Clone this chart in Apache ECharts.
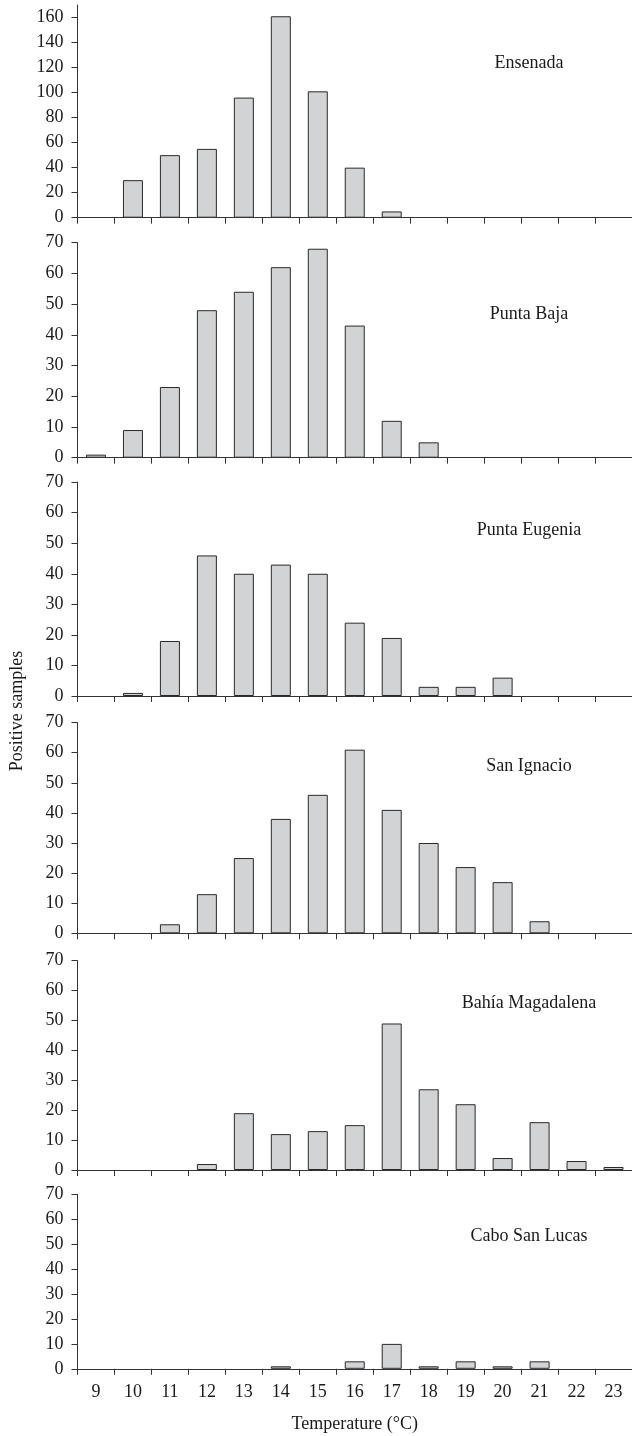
<!DOCTYPE html>
<html>
<head>
<meta charset="utf-8">
<script src="https://cdn.jsdelivr.net/npm/echarts@6/dist/echarts.min.js"></script>
<style>
  html, body { margin: 0; padding: 0; background: #fff; }
  #chart { width: 632px; height: 1436px; }
</style>
</head>
<body>
<div id="chart"></div>
<script>
// ---- data ----
const categories = ['9','10','11','12','13','14','15','16','17','18','19','20','21','22','23'];
const ensenada       = [0, 30, 50, 55, 96, 161, 101, 40, 5, 0, 0, 0, 0, 0, 0];
const puntaBaja      = [1, 9, 23, 48, 54, 62, 68, 43, 12, 5, 0, 0, 0, 0, 0];
const puntaEugenia   = [0, 1, 18, 46, 40, 43, 40, 24, 19, 3, 3, 6, 0, 0, 0];
const sanIgnacio     = [0, 0, 3, 13, 25, 38, 46, 61, 41, 30, 22, 17, 4, 0, 0];
const bahiaMagdalena = [0, 0, 0, 2, 19, 12, 13, 15, 49, 27, 22, 4, 16, 3, 1];
const caboSanLucas   = [0, 0, 0, 0, 0, 1, 0, 3, 10, 1, 3, 1, 3, 0, 0];
const siteNames = ['Ensenada', 'Punta Baja', 'Punta Eugenia', 'San Ignacio', 'Bahía Magadalena', 'Cabo San Lucas'];
const yTicksLarge = [0, 20, 40, 60, 80, 100, 120, 140, 160];
const yTicksSmall = [0, 10, 20, 30, 40, 50, 60, 70];
const yMaxes = [170, 70, 70, 70, 70, 70];
const xTitle = 'Temperature (°C)';
const yTitle = 'Positive samples';

// ---- layout ----
const seriesData = [ensenada, puntaBaja, puntaEugenia, sanIgnacio, bahiaMagdalena, caboSanLucas];
const panels = [
  { top: 5,      height: 212.7, labelY: 63 },
  { top: 242.6,  height: 215.1, labelY: 314 },
  { top: 482.1,  height: 213.9, labelY: 530 },
  { top: 722.6,  height: 210.7, labelY: 766 },
  { top: 960.7,  height: 209.3, labelY: 1003 },
  { top: 1194.5, height: 174.3, labelY: 1236 }
];
const FONT = '"Liberation Serif", "Times New Roman", serif';
const TXT = '#1a1a1a';
const AX = '#333';
const gridLeft = 77.5, gridWidth = 555;

const grid = [], xAxis = [], yAxis = [], series = [], graphic = [];
panels.forEach((p, i) => {
  const last = i === panels.length - 1;
  grid.push({ left: gridLeft, width: gridWidth, top: p.top, height: p.height });
  xAxis.push({
    type: 'category', gridIndex: i, data: categories, boundaryGap: true,
    axisLine: { show: true, lineStyle: { color: AX, width: 1 } },
    axisTick: { show: true, length: 6, inside: false, lineStyle: { color: AX } },
    axisLabel: { show: last, fontFamily: FONT, fontSize: 18, color: TXT, margin: 14 },
    name: last ? xTitle : '', nameLocation: 'middle', nameGap: 46,
    nameTextStyle: { fontFamily: FONT, fontSize: 18, color: TXT },
    splitLine: { show: false }
  });
  const ticks = i === 0 ? yTicksLarge : yTicksSmall;
  yAxis.push({
    type: 'value', gridIndex: i, min: 0, max: yMaxes[i],
    axisLine: { show: true, lineStyle: { color: AX, width: 1 } },
    axisTick: { show: true, length: 6, lineStyle: { color: AX }, customValues: ticks },
    axisLabel: { fontFamily: FONT, fontSize: 18, color: TXT, margin: 14, customValues: ticks },
    splitLine: { show: false }
  });
  series.push({
    type: 'bar', xAxisIndex: i, yAxisIndex: i,
    data: seriesData[i].map(v => v === 0 ? '-' : v),
    barWidth: 20,
    itemStyle: { color: '#d2d3d5', borderColor: '#2a2a2a', borderWidth: 1 },
    silent: true, animation: false
  });
  graphic.push({
    type: 'text', x: 529, y: p.labelY,
    style: { text: siteNames[i], font: '18px ' + FONT, fill: TXT, textAlign: 'center', textVerticalAlign: 'middle' }
  });
});
graphic.push({
  type: 'text', x: 17, y: 711, rotation: Math.PI / 2,
  style: { text: yTitle, font: '18px ' + FONT, fill: TXT, textAlign: 'center', textVerticalAlign: 'middle' }
});

const chart = echarts.init(document.getElementById('chart'), null, { renderer: 'canvas' });
chart.setOption({ animation: false, grid, xAxis, yAxis, series, graphic });
</script>
</body>
</html>
